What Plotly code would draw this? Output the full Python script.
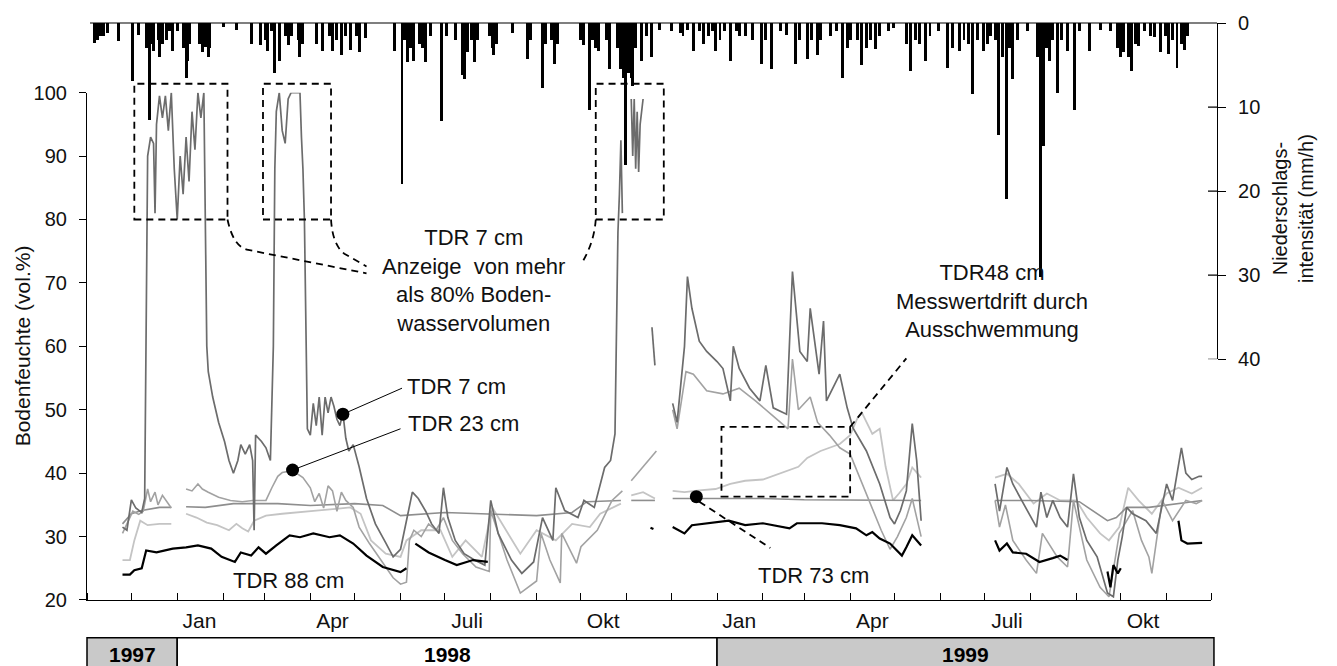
import plotly.graph_objects as go
import pandas as pd

# ---------------- precipitation intensity (mm/h) ----------------
rain_dates = [
    "1997-11-06", "1997-11-08", "1997-11-10", "1997-11-12", "1997-11-15", "1997-11-22",
    "1997-12-02", "1997-12-06", "1997-12-11", "1997-12-13", "1997-12-15", "1997-12-16",
    "1997-12-19", "1997-12-20", "1997-12-22", "1997-12-25", "1997-12-27", "1997-12-29",
    "1998-01-01", "1998-01-05", "1998-01-07", "1998-01-08", "1998-01-09", "1998-01-16",
    "1998-01-18", "1998-01-20", "1998-01-22", "1998-01-23", "1998-02-01", "1998-02-10",
    "1998-02-20", "1998-02-26", "1998-03-02", "1998-03-03", "1998-03-06", "1998-03-08",
    "1998-03-11", "1998-03-15", "1998-03-17", "1998-03-19", "1998-03-24", "1998-03-25",
    "1998-03-27", "1998-04-05", "1998-04-09", "1998-04-14", "1998-04-16", "1998-04-19",
    "1998-04-22", "1998-04-25", "1998-04-28", "1998-05-02", "1998-05-04", "1998-05-08",
    "1998-05-28", "1998-06-02", "1998-06-04", "1998-06-06", "1998-06-08", "1998-06-10",
    "1998-06-14", "1998-06-16", "1998-06-18", "1998-06-21", "1998-06-29", "1998-07-02",
    "1998-07-08", "1998-07-13", "1998-07-14", "1998-07-16", "1998-07-19", "1998-07-21",
    "1998-07-23", "1998-07-31", "1998-08-02", "1998-08-03", "1998-08-05", "1998-08-16",
    "1998-08-26", "1998-08-28", "1998-09-05", "1998-09-07", "1998-09-11", "1998-09-13",
    "1998-09-15", "1998-10-01", "1998-10-03", "1998-10-07", "1998-10-09", "1998-10-11",
    "1998-10-13", "1998-10-18", "1998-10-20", "1998-10-26", "1998-10-28", "1998-10-30",
    "1998-10-31", "1998-11-02", "1998-11-04", "1998-11-05", "1998-11-07", "1998-11-11",
    "1998-11-14", "1998-11-18", "1998-11-23", "1998-12-01", "1998-12-07", "1998-12-09",
    "1998-12-12", "1998-12-16", "1998-12-20", "1998-12-23", "1998-12-26", "1998-12-29",
    "1998-12-31", "1999-01-03", "1999-01-06", "1999-01-10", "1999-01-14", "1999-01-16",
    "1999-01-20", "1999-01-25", "1999-01-31", "1999-02-03", "1999-02-07", "1999-02-13",
    "1999-02-17", "1999-02-23", "1999-02-26", "1999-03-03", "1999-03-06", "1999-03-10",
    "1999-03-12", "1999-03-19", "1999-03-23", "1999-03-27", "1999-03-30", "1999-04-01",
    "1999-04-06", "1999-04-09", "1999-04-12", "1999-04-15", "1999-04-18", "1999-04-21",
    "1999-04-27", "1999-04-30", "1999-05-09", "1999-05-12", "1999-05-15", "1999-05-18",
    "1999-05-22", "1999-05-25", "1999-05-31", "1999-06-06", "1999-06-09", "1999-06-14",
    "1999-06-17", "1999-06-20", "1999-06-23", "1999-06-26", "1999-06-30", "1999-07-03",
    "1999-07-05", "1999-07-08", "1999-07-10", "1999-07-13", "1999-07-16", "1999-07-18",
    "1999-07-20", "1999-07-23", "1999-07-30", "1999-08-06", "1999-08-08", "1999-08-10",
    "1999-08-12", "1999-08-14", "1999-08-16", "1999-08-19", "1999-08-22", "1999-08-26",
    "1999-08-31", "1999-09-03", "1999-09-10", "1999-09-17", "1999-09-24", "1999-09-29",
    "1999-10-01", "1999-10-03", "1999-10-06", "1999-10-08", "1999-10-11", "1999-10-13",
    "1999-10-17", "1999-10-21", "1999-10-24", "1999-10-28", "1999-10-31", "1999-11-02",
    "1999-11-05", "1999-11-08", "1999-11-11", "1999-11-13", "1999-11-15",
]
rain_mmh = [
    2.4, 2.0, 1.6, 1.5, 1.2, 2.1,
    6.9, 1.4, 3.0, 11.5, 2.5, 3.3,
    2.0, 4.1, 2.5, 2.0, 1.0, 3.3,
    1.0, 3.0, 6.5, 4.5, 2.5, 2.5,
    3.5, 2.8, 4.1, 3.0, 0.5, 0.8,
    2.5, 2.6, 2.0, 3.3, 1.0, 5.9,
    4.5, 1.5, 2.6, 1.5, 2.0, 4.1,
    2.5, 2.5, 3.3, 1.5, 3.3, 2.0,
    3.8, 1.5, 3.2, 1.5, 3.4, 1.8,
    3.3, 19.2, 2.0, 4.6, 3.0, 4.5,
    2.5, 3.0, 4.6, 1.5, 11.6, 1.5,
    2.0, 6.2, 6.7, 3.5, 2.0, 4.6,
    2.0, 1.5, 3.0, 3.8, 2.5, 1.2,
    4.3, 2.0, 7.7, 2.5, 2.0, 4.9,
    2.5, 2.0, 2.6, 10.3, 2.0, 3.0,
    3.3, 2.0, 5.5, 3.0, 5.5, 6.5,
    16.9, 6.0, 6.5, 7.5, 3.0, 4.5,
    1.5, 4.1, 0.8, 1.0, 1.2, 1.5,
    0.8, 3.3, 1.0, 2.5, 1.5, 1.0,
    3.3, 2.0, 1.0, 4.5, 1.0, 1.5,
    1.5, 2.0, 4.9, 2.0, 5.5, 1.0,
    1.4, 4.9, 2.0, 4.3, 2.0, 3.8,
    2.0, 1.5, 1.0, 6.5, 3.0, 2.0,
    2.0, 5.0, 3.0, 2.0, 3.1, 1.5,
    1.0, 0.6, 2.5, 5.7, 2.0, 2.5,
    4.5, 1.5, 1.0, 5.3, 3.0, 3.3,
    2.0, 2.5, 8.5, 2.0, 3.3, 2.5,
    1.5, 2.0, 13.3, 4.0, 20.9, 3.0,
    6.7, 2.0, 1.0, 4.0, 30.2, 14.6,
    3.0, 4.5, 2.0, 8.3, 2.0, 3.3,
    10.4, 1.0, 3.3, 0.8, 1.0, 3.0,
    4.1, 3.5, 4.1, 5.7, 2.5, 2.7,
    1.0, 1.5, 1.7, 3.5, 1.5, 3.7,
    2.0, 5.4, 2.5, 3.2, 1.5,
]

# ---------------- TDR soil moisture (vol.%) ----------------
tdr7_dates = [
    "1997-11-25", "1997-11-28", "1997-12-01", "1997-12-04", "1997-12-08", "1997-12-10",
    "1997-12-12", "1997-12-14", "1997-12-16", "1997-12-17", "1997-12-18", "1997-12-20",
    "1997-12-22", "1997-12-24", "1997-12-26", "1997-12-28", "1997-12-30", "1998-01-01",
    "1998-01-03", "1998-01-05", "1998-01-07", "1998-01-09", "1998-01-11", "1998-01-13",
    "1998-01-15", "1998-01-17", "1998-01-19", "1998-01-20", "1998-01-21", "1998-01-22",
    "1998-01-25", "1998-01-29", "1998-02-02", "1998-02-05", "1998-02-08", "1998-02-11",
    "1998-02-13", "1998-02-16", "1998-02-19", "1998-02-21", "1998-02-22", "1998-02-23",
    "1998-02-27", "1998-03-02", "1998-03-05", "1998-03-07", "1998-03-08", "1998-03-09",
    "1998-03-11", "1998-03-13", "1998-03-15", "1998-03-17", "1998-03-19", "1998-03-22",
    "1998-03-25", "1998-03-26", "1998-03-27", "1998-03-28", "1998-03-29", "1998-03-30",
    "1998-04-01", "1998-04-03", "1998-04-05", "1998-04-07", "1998-04-09", "1998-04-11",
    "1998-04-13", "1998-04-15", "1998-04-17", "1998-04-19", "1998-04-21", "1998-04-23",
    "1998-04-25", "1998-04-27", "1998-04-30", "1998-05-04", "1998-05-09", "1998-05-15",
    "1998-05-22", "1998-05-27", "1998-06-01", "1998-06-04", "1998-06-09", "1998-06-13",
    "1998-06-18", "1998-06-22", "1998-06-27", "1998-06-30", "1998-07-03", "1998-07-08",
    "1998-07-14", "1998-07-21", "1998-07-28", "1998-08-01", "1998-08-06", "1998-08-15",
    "1998-08-22", "1998-08-30", "1998-09-05", "1998-09-12", "1998-09-14", "1998-09-20",
    "1998-09-29", "1998-10-03", "1998-10-10", "1998-10-17", "1998-10-21", "1998-10-24",
    "1998-10-26", "1998-10-27", "1998-10-28", "1998-10-29", "1998-11-01", "1998-11-04",
    "1998-11-05", "1998-11-06", "1998-11-07", "1998-11-08", "1998-11-09", "1998-11-10",
    "1998-11-12", "1998-11-15", "1998-11-18", "1998-11-20", "1998-11-25", "1998-12-02",
    "1998-12-05", "1998-12-10", "1998-12-12", "1998-12-15", "1998-12-20", "1998-12-25",
    "1999-01-01", "1999-01-05", "1999-01-10", "1999-01-12", "1999-01-16", "1999-01-23",
    "1999-01-30", "1999-02-03", "1999-02-08", "1999-02-17", "1999-02-21", "1999-02-26",
    "1999-03-03", "1999-03-05", "1999-03-11", "1999-03-14", "1999-03-16", "1999-03-25",
    "1999-03-30", "1999-04-03", "1999-04-12", "1999-04-21", "1999-04-28", "1999-05-01",
    "1999-05-05", "1999-05-09", "1999-05-13", "1999-05-16", "1999-05-19", "1999-06-10",
    "1999-07-08", "1999-07-11", "1999-07-16", "1999-07-20", "1999-07-26", "1999-08-05",
    "1999-08-08", "1999-08-12", "1999-08-16", "1999-08-21", "1999-08-26", "1999-08-30",
    "1999-09-03", "1999-09-08", "1999-09-15", "1999-09-22", "1999-09-26", "1999-09-29",
    "1999-10-02", "1999-10-05", "1999-10-09", "1999-10-18", "1999-10-25", "1999-11-01",
    "1999-11-05", "1999-11-11", "1999-11-14", "1999-11-18", "1999-11-23", "1999-11-25",
]
tdr7_vals = [
    31.5, 31, 35.8, 34.5, 33.8, 36,
    90, 93, 92, 81, 95, 99.5,
    96, 99.5, 94, 100, 88, 80,
    90, 84, 93, 86, 97, 91,
    100, 96, 100, 78, 60, 56,
    52, 48, 45, 42, 40, 42,
    44.5, 43, 44.5, 42, 31, 46,
    45, 44, 42, 60, 88, 97,
    100, 94, 92, 99, 100, 100,
    100, 93, 88, 80, 62, 47,
    46, 51, 47.5, 52, 46, 52,
    49.5, 52, 50.5, 48.5, 47.5, 49.5,
    45.5, 43.5, 44.5, 41, 36, 32,
    29, 26.8, 28, 31.5, 37, 36,
    34, 32, 30.5, 37.7, 33, 29.4,
    27.3, 26.3, 25.5, 35.7, 30.5, 26.3,
    24.2, 26, 33, 29.4, 37.7, 34.1,
    33, 35.7, 34.6, 40.9, 42, 46.2,
    78, 84, 92.5, 81, None, 99,
    90, 99, 88, 97, 87.5, 95,
    99, None, 63, 57, None, 51,
    48, 60, 71, 66, 60.8, 59.2,
    57.6, 56.5, 51.4, 60, 56.5, 53.4,
    51.4, 57, 50.3, 49.3, 71.8, 59.2,
    57.6, 66, 55.6, 64, 51.4, 55.6,
    50.3, 47.1, 43.5, 38.3, 33, 32,
    34.1, 37.2, 47.8, 42, 32.5, None,
    38.3, 34, 40.9, 38.3, 35.7, 31.5,
    37, 33, 35.7, 33, 31.5, 39.9,
    33, 29.4, 26.8, 21.1, 20.5, 26.3,
    30, 34.6, 33.6, 32.5, 30.5, 38.3,
    35.7, 44, 40, 39, 39.5, 39.5,
]

tdr23_dates = [
    "1997-11-25", "1997-11-28", "1997-12-02", "1997-12-06", "1997-12-09", "1997-12-12",
    "1997-12-14", "1997-12-17", "1997-12-19", "1997-12-22", "1997-12-25", "1997-12-28",
    "1998-01-02", "1998-01-07", "1998-01-11", "1998-01-15", "1998-01-18", "1998-01-22",
    "1998-01-29", "1998-02-06", "1998-02-14", "1998-02-21", "1998-02-27", "1998-03-02",
    "1998-03-06", "1998-03-10", "1998-03-13", "1998-03-20", "1998-03-27", "1998-04-01",
    "1998-04-04", "1998-04-07", "1998-04-10", "1998-04-13", "1998-04-16", "1998-04-19",
    "1998-04-22", "1998-04-25", "1998-04-30", "1998-05-04", "1998-05-11", "1998-05-20",
    "1998-05-27", "1998-06-01", "1998-06-05", "1998-06-07", "1998-06-10", "1998-06-15",
    "1998-06-20", "1998-06-25", "1998-06-30", "1998-07-06", "1998-07-13", "1998-07-22",
    "1998-07-31", "1998-08-01", "1998-08-12", "1998-08-21", "1998-08-24", "1998-09-01",
    "1998-09-04", "1998-09-10", "1998-09-17", "1998-09-18", "1998-09-28", "1998-10-01",
    "1998-10-12", "1998-10-22", "1998-10-29", "1998-11-01", "1998-11-04", "1998-11-16",
    "1998-11-21", "1998-11-26", "1998-12-02", "1998-12-05", "1998-12-11", "1998-12-16",
    "1998-12-25", "1999-01-05", "1999-01-16", "1999-01-27", "1999-02-08", "1999-02-18",
    "1999-02-21", "1999-02-25", "1999-03-05", "1999-03-10", "1999-03-18", "1999-03-25",
    "1999-04-01", "1999-04-08", "1999-04-15", "1999-04-22", "1999-04-28", "1999-05-03",
    "1999-05-09", "1999-05-13", "1999-05-16", "1999-05-19", "1999-06-10", "1999-07-08",
    "1999-07-11", "1999-07-15", "1999-07-20", "1999-07-29", "1999-08-05", "1999-08-09",
    "1999-08-19", "1999-08-26", "1999-08-30", "1999-09-08", "1999-09-17", "1999-09-23",
    "1999-09-30", "1999-10-09", "1999-10-15", "1999-10-20", "1999-10-22", "1999-10-29",
    "1999-11-05", "1999-11-14", "1999-11-21", "1999-11-25",
]
tdr23_vals = [
    30.5, 32, 34, 33.5, 34, 37.5,
    35.5, 37, 35, 36.5, 35.5, 34.5,
    None, 37.5, 37.2, 38.3, 37.5, 37,
    36.2, 35.7, 35.5, 35.7, 35.7, 35.7,
    37.7, 39.5, 40.1, 40.4, 39.3, 37.7,
    35.5, 36.8, 34.5, 38, 37.2, 34,
    37, 35.7, 34.6, 31.5, 28.9, 25.8,
    23.5, 22.5, 22.8, 29.4, 31, 30,
    32, 31, 33, 29.4, 27.3, 25.2,
    24.5, 34.1, 26.3, 21.1, 21.6, 23,
    30.5, 26.3, 22.7, 30.5, 25.8, 28.4,
    31, 35.7, 37.2, None, 38.8, 42,
    43.5, None, 50, 47, 56, 55.6,
    53, 52.5, 53.4, 51.4, 49, 47,
    58, 50, 52, 48, 46, 44,
    43, 39, 35, 31, 28, 30,
    33, 36, 33, 30, None, 35.7,
    31.5, 35, 29.4, 26.3, 24.2, 30.5,
    26.8, 25.2, 35.7, 26.3, 22, 20.5,
    30.5, 34.1, 29.4, 26.8, 24.2, 35.7,
    32.5, 35.7, 35.2, 35.7,
]

tdr48_dates = [
    "1997-11-25", "1997-11-30", "1997-12-03", "1997-12-07", "1997-12-12", "1997-12-20",
    "1997-12-28", "1998-01-02", "1998-01-07", "1998-01-14", "1998-01-21", "1998-01-28",
    "1998-02-05", "1998-02-10", "1998-02-14", "1998-02-18", "1998-02-22", "1998-03-02",
    "1998-03-13", "1998-03-25", "1998-04-05", "1998-04-20", "1998-04-28", "1998-05-05",
    "1998-05-12", "1998-05-22", "1998-06-01", "1998-06-05", "1998-06-15", "1998-06-28",
    "1998-07-06", "1998-07-15", "1998-07-26", "1998-08-02", "1998-08-21", "1998-09-01",
    "1998-09-14", "1998-09-25", "1998-10-07", "1998-10-14", "1998-10-28", "1998-11-01",
    "1998-11-04", "1998-11-12", "1998-11-20", "1998-11-26", "1998-12-02", "1998-12-10",
    "1998-12-20", "1998-12-31", "1999-01-10", "1999-01-20", "1999-02-01", "1999-02-12",
    "1999-02-25", "1999-03-03", "1999-03-12", "1999-03-25", "1999-04-01", "1999-04-06",
    "1999-04-09", "1999-04-16", "1999-04-21", "1999-04-25", "1999-04-30", "1999-05-04",
    "1999-05-09", "1999-05-13", "1999-05-19", "1999-06-10", "1999-07-08", "1999-07-16",
    "1999-07-24", "1999-08-03", "1999-08-12", "1999-08-21", "1999-09-01", "1999-09-08",
    "1999-09-17", "1999-09-23", "1999-09-30", "1999-10-06", "1999-10-13", "1999-10-22",
    "1999-11-01", "1999-11-09", "1999-11-18", "1999-11-25",
]
tdr48_vals = [
    26.3, 26.3, 29.4, 32.5, 31.8, 32,
    32, None, 33.6, 33, 32.2, 31.8,
    31, 32, 31.3, 30.8, 32.5, 33.3,
    33.6, 33.8, 34.1, 34.4, 34.6, 33.6,
    29.4, 27.3, 26.8, 29.4, 31, 31,
    26.8, 29.4, 26.8, 34.6, 27.3, 31,
    29.4, 32, 31.5, 33.6, 35.2, None,
    36.5, 37, 36, None, 37.2, 37,
    37.3, 37.5, 38.3, 38.8, 39, 39.9,
    41, 42.4, 43.5, 44.6, 46, 48.7,
    49.5, 46.2, 47, 41, 35.7, 36.8,
    38.3, 40.9, 39.3, None, 39.3, 39.9,
    38.3, 35.2, 36.8, 35.7, 35.7, 33,
    30.5, 29.4, 31.5, 37.7, 35.7, 33.6,
    36.8, 37.7, 36.8, 37.7,
]

tdr73_dates = [
    "1997-11-25", "1997-12-01", "1997-12-08", "1997-12-20", "1997-12-28", "1998-01-02",
    "1998-01-07", "1998-01-20", "1998-02-08", "1998-03-10", "1998-04-01", "1998-05-01",
    "1998-05-20", "1998-06-01", "1998-07-01", "1998-08-01", "1998-09-01", "1998-09-25",
    "1998-10-05", "1998-10-28", "1998-11-01", "1998-11-04", "1998-11-20", "1998-11-26",
    "1998-12-02", "1999-01-01", "1999-02-01", "1999-03-01", "1999-04-01", "1999-05-01",
    "1999-05-19", "1999-06-10", "1999-07-08", "1999-08-01", "1999-09-03", "1999-09-15",
    "1999-09-22", "1999-09-28", "1999-10-05", "1999-10-20", "1999-11-10", "1999-11-25",
]
tdr73_vals = [
    32, 33.6, 34.1, 34.6, 34.6, None,
    34.7, 34.6, 35.2, 35.2, 34.9, 35.2,
    34.9, 33.3, 33.8, 33.6, 33.3, 33.8,
    35.5, 35.7, None, 35.7, 35.7, None,
    36, 36, 36, 35.8, 35.8, 35.7,
    35.7, None, 35.7, 35.7, 35.5, 33.6,
    32.5, 33, 34.6, 34.6, 35.2, 35.7,
]

tdr88_dates = [
    "1997-11-25", "1997-11-30", "1997-12-03", "1997-12-08", "1997-12-11", "1997-12-18",
    "1997-12-29", "1998-01-07", "1998-01-15", "1998-01-24", "1998-01-31", "1998-02-09",
    "1998-02-13", "1998-02-20", "1998-02-25", "1998-03-02", "1998-03-09", "1998-03-18",
    "1998-03-25", "1998-04-03", "1998-04-14", "1998-04-21", "1998-04-30", "1998-05-09",
    "1998-05-20", "1998-06-01", "1998-06-05", "1998-06-08", "1998-06-11", "1998-06-20",
    "1998-07-01", "1998-07-09", "1998-07-20", "1998-07-30", "1998-09-01", "1998-11-17",
    "1998-11-19", "1998-11-25", "1998-12-02", "1998-12-10", "1998-12-15", "1998-12-25",
    "1999-01-09", "1999-01-20", "1999-02-01", "1999-02-19", "1999-02-24", "1999-03-13",
    "1999-03-25", "1999-04-05", "1999-04-12", "1999-04-16", "1999-04-21", "1999-04-28",
    "1999-05-06", "1999-05-09", "1999-05-13", "1999-05-19", "1999-06-10", "1999-07-08",
    "1999-07-11", "1999-07-16", "1999-07-20", "1999-07-29", "1999-08-07", "1999-08-16",
    "1999-08-21", "1999-08-26", "1999-09-10", "1999-09-22", "1999-09-24", "1999-09-26",
    "1999-09-29", "1999-10-01", "1999-10-20", "1999-11-09", "1999-11-11", "1999-11-15",
    "1999-11-22", "1999-11-25",
]
tdr88_vals = [
    24, 24, 24.7, 25, 27.8, 27.5,
    28.1, 28.3, 28.6, 28.1, 26.8, 26,
    27.5, 27, 28.3, 27.3, 28.6, 30.2,
    29.9, 30.5, 29.9, 30.2, 28.9, 27,
    25.2, 24.4, 25, None, 28.9, 27.5,
    26.3, 25.5, 26.3, 26, None, 31.4,
    31.2, None, 31.5, 30.5, 31.8, 32.1,
    32.5, 31.8, 32.1, 31.3, 32.1, 32.1,
    31.8, 31.3, 30.2, 30.7, 29.7, 28.9,
    27, 28.3, 30.2, 28.6, None, 29.4,
    27.8, 28.9, 27.5, 27.3, 26, 26.6,
    27, 26.3, None, 24.5, 22, 25.5,
    24.2, 25, None, 32.5, 29.4, 28.9,
    28.9, 29,
]

# Marked readings for the callout labels
mark_dates = ["1998-04-23", "1998-03-20", "1998-12-18"]
mark_vals = [49.3, 40.5, 36.3]

# ---------------- geometry helpers ----------------
X_START, X_END = pd.Timestamp("1997-11-01"), pd.Timestamp("1999-12-01")
X_DOM = [0.0, 1124 / 1130]
Y_DOM = [0.0, 510 / 580]
Y2_DOM = [242 / 580, 1.0]
Y_RANGE = [20, 100]


def xp(d):
    frac = (pd.Timestamp(d) - X_START) / (X_END - X_START)
    return X_DOM[0] + frac * (X_DOM[1] - X_DOM[0])


def yp(v):
    return Y_DOM[0] + (v - Y_RANGE[0]) / (Y_RANGE[1] - Y_RANGE[0]) * (Y_DOM[1] - Y_DOM[0])


FONT = "Liberation Sans, Arial, sans-serif"

fig = go.Figure()

# precipitation bars hanging from the top
fig.add_trace(go.Bar(
    x=rain_dates, y=rain_mmh, yaxis="y2", marker=dict(color="black", line=dict(width=0)),
    width=86400000 * 2.0, showlegend=False, hoverinfo="x+y",
))

series = [
    ("TDR 48 cm", tdr48_dates, tdr48_vals, "#c4c4c4", 1.8),
    ("TDR 73 cm", tdr73_dates, tdr73_vals, "#8e8e8e", 1.6),
    ("TDR 23 cm", tdr23_dates, tdr23_vals, "#a2a2a2", 1.6),
    ("TDR 7 cm", tdr7_dates, tdr7_vals, "#6c6c6c", 1.7),
    ("TDR 88 cm", tdr88_dates, tdr88_vals, "#000000", 2.2),
]
for name, d, v, c, w in series:
    fig.add_trace(go.Scatter(
        x=d, y=v, mode="lines", name=name, line=dict(color=c, width=w),
        connectgaps=False, showlegend=False,
    ))

fig.add_trace(go.Scatter(
    x=mark_dates, y=mark_vals, mode="markers", showlegend=False,
    marker=dict(color="black", size=13), cliponaxis=False,
))

shapes = []
DASH = dict(color="black", width=1.8, dash="7px,5px")

# dashed frames around the implausible readings
frames = [
    ("1997-12-03", "1998-02-04", 80, 101.4),
    ("1998-02-28", "1998-04-15", 80, 101.4),
    ("1998-10-11", "1998-11-26", 80, 101.4),
    ("1999-01-04", "1999-04-01", 36.3, 47.3),
]
for d0, d1, v0, v1 in frames:
    shapes.append(dict(type="rect", xref="paper", yref="paper",
                       x0=xp(d0), x1=xp(d1), y0=yp(v0), y1=yp(v1), line=DASH, layer="above"))


def curve(p0, c, p1, p2=None):
    s = f"M {xp(p0[0])},{yp(p0[1])} Q {xp(c[0])},{yp(c[1])} {xp(p1[0])},{yp(p1[1])}"
    if p2 is not None:
        s += f" L {xp(p2[0])},{yp(p2[1])}"
    return s


connectors = [
    curve(("1998-02-04", 80), ("1998-02-08", 75.6), ("1998-02-18", 75.2), ("1998-05-09", 71.5)),
    curve(("1998-04-15", 80), ("1998-04-16", 76), ("1998-04-24", 74.6), ("1998-05-09", 72.6)),
    curve(("1998-10-11", 80), ("1998-10-10", 76.5), ("1998-10-02", 73.3)),
]
for p in connectors:
    shapes.append(dict(type="path", xref="paper", yref="paper", path=p, line=DASH))

# pointer lines to the depth labels
shapes.append(dict(type="line", xref="x", yref="y", x0="1998-04-23", y0=49.3,
                   x1="1998-06-02", y1=53.4, line=dict(color="black", width=1)))
shapes.append(dict(type="line", xref="x", yref="y", x0="1998-03-20", y0=40.5,
                   x1="1998-06-01", y1=47.0, line=dict(color="black", width=1)))
shapes.append(dict(type="line", xref="x", yref="y", x0="1998-12-20", y0=35.5,
                   x1="1999-02-06", y1=28.2, line=DASH))
shapes.append(dict(type="line", xref="x", yref="y", x0="1999-04-01", y0=47.3,
                   x1="1999-05-09", y1=58.1, line=DASH))

# baseline of the precipitation bars
shapes.append(dict(type="line", xref="paper", yref="paper", x0=xp("1997-11-03"), x1=1.0,
                   y0=1.0, y1=1.0, line=dict(color="black", width=1.2)))
# inner half of the crossing ticks on the precipitation axis
for t in [10, 20, 30, 40]:
    shapes.append(dict(type="line", xref="paper", yref="y2", x0=1.0 - 9 / 1130, x1=1.0,
                       y0=t, y1=t, line=dict(color="black", width=1.2)))

# year band below the month axis
years = [("1997", "1997-11-01", "1998-01-01", "#c9c9c9"),
         ("1998", "1998-01-01", "1999-01-01", "#ffffff"),
         ("1999", "1999-01-01", "1999-12-03", "#c9c9c9")]
BAND_TOP, BAND_BOT = -38 / 580, -0.2
annotations = []
for label, d0, d1, fill in years:
    shapes.append(dict(type="rect", xref="paper", yref="paper", x0=xp(d0), x1=xp(d1),
                       y0=BAND_BOT, y1=BAND_TOP, fillcolor=fill,
                       line=dict(color="black", width=1.5), layer="below"))
    annotations.append(dict(xref="paper", yref="paper", x=(xp(d0) + xp(d1)) / 2, y=-55 / 580,
                            text=f"<b>{label}</b>", showarrow=False, xanchor="center",
                            yanchor="middle", font=dict(size=21, color="black", family=FONT)))

TXT = dict(size=22, color="#111111", family=FONT)
annotations += [
    dict(x="1998-07-20", y=70.4, xref="x", yref="y", showarrow=False, align="center",
         text="TDR 7 cm<br>Anzeige  von mehr<br>als 80% Boden-<br>wasservolumen", font=TXT),
    dict(x="1998-06-04", y=53.7, xref="x", yref="y", showarrow=False, xanchor="left",
         text="TDR 7 cm", font=TXT),
    dict(x="1998-06-05", y=47.8, xref="x", yref="y", showarrow=False, xanchor="left",
         text="TDR 23 cm", font=TXT),
    dict(x="1998-03-17", y=23.1, xref="x", yref="y", showarrow=False,
         text="TDR 88 cm", font=TXT),
    dict(x="1999-03-07", y=23.8, xref="x", yref="y", showarrow=False,
         text="TDR 73 cm", font=TXT),
    dict(x="1999-07-06", y=67.1, xref="x", yref="y", showarrow=False, align="center",
         text="TDR48 cm<br>Messwertdrift durch<br>Ausschwemmung", font=TXT),
    dict(xref="paper", yref="paper", x=-65 / 1130, y=yp(60), textangle=-90, showarrow=False,
         xanchor="center", yanchor="middle",
         text="Bodenfeuchte (vol.%)", font=dict(size=21, color="#111111", family=FONT)),
    dict(xref="paper", yref="paper", x=1 + 76 / 1130, y=(600 - 207) / 580, textangle=-90,
         xanchor="center", yanchor="middle", showarrow=False, align="center",
         text="Niederschlags-<br>intensität (mm/h)",
         font=dict(size=20, color="#111111", family=FONT)),
]

month_vals = ["1998-01-16", "1998-04-16", "1998-07-16", "1998-10-16",
              "1999-01-16", "1999-04-16", "1999-07-16", "1999-10-16"]
month_text = ["Jan", "Apr", "Juli", "Okt", "Jan", "Apr", "Juli", "Okt"]

fig.update_layout(
    width=1337, height=666,
    margin=dict(l=87, r=120, t=20, b=66),
    paper_bgcolor="white", plot_bgcolor="rgba(0,0,0,0)",
    font=dict(family=FONT, size=20, color="#111111"),
    showlegend=False, bargap=0,
    xaxis=dict(
        type="date", domain=X_DOM, range=["1997-11-01", "1999-12-01"], anchor="y",
        tickmode="array", tickvals=month_vals, ticktext=month_text, ticks="",
        tickfont=dict(size=21), ticklabelstandoff=2,
        minor=dict(ticks="inside", ticklen=7, tickwidth=1.2, tickcolor="black",
                   dtick="M1", tick0="1997-11-01", showgrid=False),
        showline=True, linecolor="black", linewidth=1.2, showgrid=False, zeroline=False,
    ),
    yaxis=dict(
        domain=Y_DOM, range=Y_RANGE, tickmode="linear", tick0=20, dtick=10,
        ticks="outside", ticklen=7, tickwidth=1.2, tickcolor="black", ticklabelstandoff=8,
        showline=True, linecolor="black", linewidth=1.2, showgrid=False, zeroline=False,
        tickfont=dict(size=20),
    ),
    yaxis2=dict(
        domain=Y2_DOM, range=[40, 0], anchor="free", position=1.0, side="right",
        tickvals=[0, 10, 20, 30, 40], ticks="outside", ticklen=8, tickwidth=1.2,
        tickcolor="black", ticklabelstandoff=8,
        showline=True, linecolor="black", linewidth=1.2, showgrid=False, zeroline=False,
        tickfont=dict(size=20),
    ),
    shapes=shapes,
    annotations=annotations,
)

fig.write_html("out.html")
